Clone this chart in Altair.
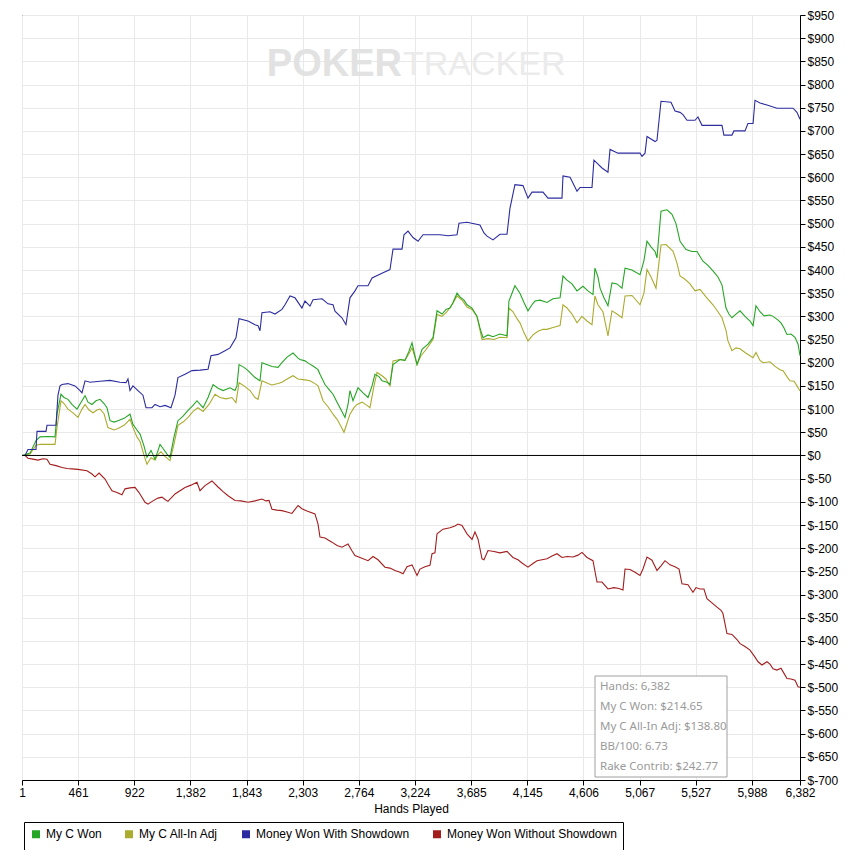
import altair as alt
import pandas as pd

series_names = ["My C Won", "My C All-In Adj", "Money Won With Showdown", "Money Won Without Showdown"]
series_colors = ["#26a626", "#abab2e", "#2c2ca0", "#a31d1d"]

x_ticks = [1, 461, 922, 1382, 1843, 2303, 2764, 3224, 3685, 4145, 4606, 5067, 5527, 5988, 6382]
y_ticks = list(range(-700, 951, 50))
summary_lines = ["Hands: 6,382", "My C Won: $214.65", "My C All-In Adj: $138.80", "BB/100: 6.73", "Rake Contrib: $242.77"]

# Money Won With Showdown
sd_hands = [1, 26, 50, 116, 124, 198, 206, 280, 296, 313, 329, 378, 436, 477, 493, 518, 559, 641, 723, 805,
            854, 870, 887, 911, 952, 993, 1018, 1067, 1092, 1133, 1174, 1223, 1256, 1280, 1338, 1395, 1461, 1527,
            1551, 1609, 1666, 1707, 1756, 1781, 1855, 1912, 1937, 1953, 1969, 2035, 2076, 2133, 2158, 2199, 2240,
            2297, 2322, 2363, 2388, 2462, 2511, 2552, 2568, 2625, 2658, 2691, 2732, 2757, 2839, 2872, 2962, 3019,
            3044, 3118, 3134, 3167, 3208, 3249, 3290, 3429, 3495, 3569, 3585, 3651, 3757, 3790, 3815, 3864, 3921,
            3979, 4003, 4044, 4110, 4151, 4184, 4274, 4315, 4430, 4438, 4496, 4553, 4578, 4676, 4692, 4758, 4807,
            4824, 4889, 5070, 5086, 5111, 5127, 5193, 5209, 5242, 5324, 5357, 5398, 5422, 5455, 5521, 5545, 5578,
            5742, 5758, 5824, 5840, 5931, 5955, 5997, 6013, 6054, 6111, 6193, 6325, 6357, 6382]
sd_values = [0, 0, 13, 13, 52, 52, 65, 65, 130, 150, 153, 155, 150, 140, 135, 161, 158, 160, 162, 158,
             157, 165, 140, 150, 140, 130, 103, 103, 110, 105, 108, 103, 130, 168, 175, 183, 184, 186,
             215, 218, 226, 232, 254, 295, 290, 282, 280, 269, 308, 310, 305, 315, 325, 344, 340,
             318, 333, 322, 336, 338, 327, 325, 311, 297, 282, 340, 355, 366, 366, 383, 394, 401,
             445, 445, 476, 484, 470, 462, 476, 476, 474, 476, 501, 503, 497, 480, 473, 465, 477,
             477, 533, 584, 582, 555, 568, 568, 555, 555, 603, 600, 570, 578, 578, 637, 620, 611,
             660, 652, 652, 645, 652, 688, 677, 680, 764, 762, 743, 740, 735, 723, 723, 730, 712,
             712, 691, 691, 700, 700, 716, 716, 766, 760, 756, 749, 749, 740, 725]

# My C Won
won_hands = [1, 67, 116, 149, 214, 272, 288, 321, 346, 378, 411, 452, 493, 518, 542, 575, 608, 641, 674, 698,
             723, 756, 788, 838, 887, 911, 944, 969, 1002, 1026, 1059, 1092, 1116, 1133, 1158, 1190, 1215, 1248,
             1280, 1322, 1363, 1404, 1436, 1486, 1527, 1568, 1609, 1650, 1707, 1748, 1764, 1781, 1822, 1855, 1912,
             1953, 1969, 2019, 2051, 2101, 2133, 2175, 2224, 2265, 2281, 2322, 2355, 2388, 2429, 2445, 2486, 2527,
             2552, 2585, 2609, 2650, 2675, 2691, 2716, 2757, 2798, 2839, 2872, 2896, 2929, 2954, 2995, 3019, 3044,
             3101, 3142, 3175, 3200, 3224, 3241, 3265, 3282, 3331, 3372, 3405, 3446, 3479, 3511, 3536, 3569, 3593,
             3626, 3651, 3692, 3733, 3757, 3782, 3823, 3864, 3921, 3979, 3995, 4020, 4044, 4085, 4118, 4151, 4184,
             4208, 4250, 4307, 4356, 4414, 4438, 4471, 4512, 4553, 4602, 4643, 4684, 4700, 4725, 4742, 4774, 4807,
             4840, 4881, 4922, 4947, 5004, 5070, 5102, 5127, 5160, 5193, 5209, 5242, 5291, 5332, 5365, 5398, 5447,
             5496, 5537, 5586, 5627, 5668, 5709, 5742, 5775, 5799, 5824, 5857, 5890, 5931, 5972, 5997, 6021, 6054,
             6087, 6136, 6161, 6202, 6226, 6251, 6275, 6308, 6341, 6366, 6382]
won_values = [0, 5, 32, 40, 41, 40, 89, 132, 125, 121, 110, 100, 118, 129, 115, 110, 118, 121, 112, 103,
              75, 72, 75, 80, 89, 67, 55, 46, 20, -4, 11, -8, 10, 24, 15, 3, -4, 40,
              75, 85, 97, 108, 118, 103, 125, 153, 145, 140, 146, 140, 150, 196, 190, 183, 168,
              161, 200, 195, 192, 190, 200, 212, 221, 210, 207, 204, 198, 193, 185, 175, 153, 140,
              132, 115, 103, 82, 110, 140, 118, 146, 135, 125, 150, 175, 170, 161, 158, 153, 196,
              207, 205, 225, 243, 215, 196, 215, 229, 240, 254, 312, 305, 315, 318, 330, 350, 342,
              335, 325, 318, 300, 275, 254, 260, 256, 262, 258, 333, 350, 366, 350, 330, 312, 325,
              333, 335, 330, 338, 340, 387, 378, 370, 355, 365, 355, 347, 404, 385, 361, 340, 323,
              372, 370, 361, 404, 400, 390, 420, 462, 450, 440, 426, 527, 530, 520, 500, 462, 444,
              440, 440, 419, 410, 398, 385, 368, 318, 305, 297, 305, 312, 300, 290, 280, 323, 310,
              301, 303, 300, 292, 286, 275, 261, 262, 255, 240, 215]

# My C All-In Adj
adj_hands = [1, 67, 116, 149, 214, 272, 288, 321, 346, 378, 419, 460, 493, 518, 551, 583, 616, 641, 674, 706,
             756, 788, 838, 887, 911, 944, 969, 1002, 1026, 1059, 1092, 1116, 1141, 1174, 1215, 1248, 1280, 1322,
             1363, 1404, 1444, 1486, 1535, 1584, 1625, 1674, 1723, 1756, 1781, 1822, 1871, 1912, 1937, 1969, 2019,
             2051, 2101, 2133, 2175, 2224, 2265, 2322, 2363, 2404, 2429, 2470, 2511, 2552, 2585, 2609, 2642, 2667,
             2691, 2724, 2749, 2790, 2831, 2855, 2888, 2913, 2954, 2986, 3019, 3044, 3101, 3142, 3175, 3200, 3224,
             3241, 3273, 3314, 3372, 3405, 3446, 3487, 3528, 3569, 3610, 3651, 3692, 3733, 3774, 3823, 3872, 3921,
             3979, 3995, 4028, 4061, 4085, 4118, 4151, 4192, 4233, 4274, 4307, 4356, 4414, 4438, 4471, 4512, 4553,
             4594, 4635, 4676, 4700, 4725, 4766, 4807, 4840, 4881, 4922, 4947, 5004, 5070, 5102, 5127, 5160, 5201,
             5242, 5283, 5340, 5373, 5398, 5439, 5480, 5521, 5562, 5611, 5668, 5709, 5742, 5775, 5791, 5824, 5857,
             5890, 5931, 5972, 5997, 6021, 6054, 6079, 6136, 6177, 6218, 6243, 6275, 6300, 6333, 6357, 6382]
adj_values = [0, 3, 22, 24, 24, 24, 60, 118, 112, 100, 92, 82, 100, 110, 98, 92, 98, 100, 90, 60,
              55, 58, 65, 78, 60, 40, 30, 0, -19, -5, -10, 2, 8, -2, -11, 25, 65, 72,
              82, 95, 103, 95, 110, 132, 125, 122, 125, 114, 157, 150, 140, 125, 121, 161, 155,
              152, 155, 158, 165, 172, 165, 163, 161, 155, 150, 118, 105, 89, 78, 67, 50, 70,
              89, 103, 110, 115, 108, 103, 150, 179, 172, 165, 150, 204, 207, 205, 220, 232, 212,
              196, 215, 228, 250, 304, 300, 310, 325, 344, 335, 320, 315, 300, 250, 252, 250, 255,
              254, 318, 310, 295, 286, 265, 247, 260, 268, 272, 272, 276, 280, 325, 318, 305, 286,
              300, 290, 282, 344, 325, 310, 258, 312, 305, 297, 344, 345, 325, 350, 401, 385, 361,
              454, 455, 441, 415, 387, 380, 370, 355, 358, 342, 325, 310, 297, 270, 247, 226, 232,
              230, 222, 215, 211, 222, 205, 200, 202, 192, 185, 183, 170, 161, 160, 150, 139]

# Money Won Without Showdown
nsd_hands = [1, 26, 50, 91, 132, 173, 206, 231, 280, 329, 370, 411, 460, 534, 575, 600, 633, 682, 706, 739,
             780, 821, 846, 887, 928, 961, 1010, 1034, 1075, 1116, 1149, 1174, 1198, 1231, 1256, 1297, 1338, 1387,
             1436, 1461, 1502, 1559, 1609, 1650, 1691, 1748, 1797, 1855, 1912, 1969, 2002, 2027, 2051, 2092, 2133,
             2175, 2215, 2265, 2297, 2338, 2404, 2429, 2445, 2486, 2543, 2585, 2625, 2675, 2708, 2732, 2773, 2839,
             2880, 2921, 2978, 3019, 3060, 3101, 3126, 3159, 3200, 3241, 3265, 3306, 3347, 3364, 3388, 3405, 3454,
             3511, 3552, 3577, 3610, 3651, 3692, 3716, 3741, 3774, 3790, 3823, 3872, 3921, 3979, 4028, 4069, 4102,
             4151, 4192, 4225, 4266, 4307, 4348, 4389, 4430, 4471, 4520, 4561, 4594, 4635, 4684, 4717, 4758, 4807,
             4856, 4897, 4930, 4947, 4988, 5029, 5070, 5094, 5127, 5168, 5209, 5242, 5275, 5316, 5357, 5390, 5414,
             5463, 5504, 5529, 5562, 5594, 5619, 5660, 5701, 5734, 5750, 5783, 5824, 5865, 5890, 5931, 5972, 6013,
             6038, 6070, 6111, 6136, 6161, 6193, 6226, 6251, 6275, 6308, 6341, 6366, 6382]
nsd_values = [0, 0, -6, -8, -10, -7, -8, -19, -22, -26, -28, -29, -30, -33, -40, -46, -38, -51, -62, -76,
              -80, -85, -72, -70, -69, -80, -101, -105, -98, -92, -90, -95, -99, -90, -83, -76, -69, -64,
              -58, -76, -65, -55, -68, -78, -87, -97, -98, -101, -98, -94, -98, -97, -116, -118, -119,
              -122, -125, -108, -115, -120, -126, -148, -176, -178, -187, -194, -198, -191, -206, -216, -220, -227,
              -218, -225, -241, -243, -248, -252, -255, -240, -236, -259, -245, -240, -237, -212, -210, -169, -159,
              -156, -152, -148, -151, -169, -181, -165, -180, -223, -225, -205, -207, -210, -207, -220, -225, -232,
              -241, -233, -227, -225, -223, -217, -212, -220, -218, -219, -215, -209, -220, -227, -273, -273, -288,
              -285, -287, -290, -245, -246, -252, -259, -245, -219, -226, -248, -238, -227, -236, -240, -245, -277,
              -279, -295, -285, -288, -288, -309, -318, -327, -334, -341, -384, -386, -397, -406, -412, -420, -435,
              -445, -452, -445, -450, -460, -463, -459, -470, -481, -482, -485, -499, -500]


def frame(name, hands, values):
    return pd.DataFrame({"hand": hands, "value": values, "series": name})


color_scale = alt.Scale(domain=series_names, range=series_colors)
legend = alt.Legend(
    title=None, orient="none", legendX=2, legendY=807, direction="horizontal",
    symbolType="square", symbolSize=9, symbolStrokeWidth=5, symbolOpacity=1,
    labelFont="Liberation Sans", labelFontSize=12, labelLimit=400,
    labelColor="black", columnPadding=15, labelOffset=4, padding=6,
    strokeColor="black", fillColor="white",
)

x_enc = alt.X("hand:Q", scale=alt.Scale(domain=[1, 6382], nice=False, zero=False),
              axis=alt.Axis(values=x_ticks, format=",.0f", title="Hands Played", labelFlush=False,
                            labelOverlap=False))
y_enc = alt.Y("value:Q", scale=alt.Scale(domain=[-700, 950], nice=False, zero=False),
              axis=alt.Axis(orient="right", values=y_ticks, labelExpr="'$' + datum.value",
                            title=None, labelOverlap=False))

dummy = pd.DataFrame({"k": [0]})

mark_poker = alt.Chart(dummy).mark_text(
    align="right", baseline="middle", fontSize=38, fontWeight="bold",
    font="Liberation Sans", color="#e2e2e2"
).encode(x=alt.value(380), y=alt.value(50), text=alt.value("POKER"))
mark_tracker = alt.Chart(dummy).mark_text(
    align="left", baseline="middle", fontSize=34, fontWeight="normal",
    font="Liberation Sans", color="#ebebeb"
).encode(x=alt.value(381), y=alt.value(50), text=alt.value("TRACKER"))

layers = [mark_poker, mark_tracker]
for name, hands, values in [
    ("My C All-In Adj", adj_hands, adj_values),
    ("My C Won", won_hands, won_values),
    ("Money Won With Showdown", sd_hands, sd_values),
    ("Money Won Without Showdown", nsd_hands, nsd_values),
]:
    layers.append(
        alt.Chart(frame(name, hands, values)).mark_line(strokeWidth=1.1).encode(
            x=x_enc, y=y_enc,
            color=alt.Color("series:N", scale=color_scale, legend=legend),
        )
    )

zero_rule = alt.Chart(pd.DataFrame({"value": [0]})).mark_rule(color="black", strokeWidth=1).encode(y=y_enc)

box = alt.Chart(dummy).mark_rect(fill="white", stroke="#a0a0a0", strokeWidth=1).encode(
    x=alt.value(573), x2=alt.value(705), y=alt.value(661), y2=alt.value(762)
)
box_text = alt.Chart(dummy).mark_text(
    align="left", baseline="top", fontSize=11.5, font="Noto Sans", color="#9a9a9a", lineHeight=20
).encode(x=alt.value(578), y=alt.value(666), text=alt.value(summary_lines))

chart = alt.layer(*layers, zero_rule, box, box_text).properties(
    width=778, height=765,
    padding={"left": 14, "top": 7, "right": 40, "bottom": 70},
    autosize=alt.AutoSizeParams(type="none"),
).configure_view(
    stroke="black", strokeWidth=1
).configure_axis(
    domainColor="black", tickColor="black", labelColor="black", titleColor="black",
    gridColor="#e9e9e9", labelFont="Liberation Sans", labelFontSize=12,
    titleFont="Liberation Sans", titleFontSize=12, titleFontWeight="normal",
    tickSize=5, labelPadding=2, titlePadding=5,
)

chart.save("out.html", embed_options={"renderer": "svg", "actions": False})
